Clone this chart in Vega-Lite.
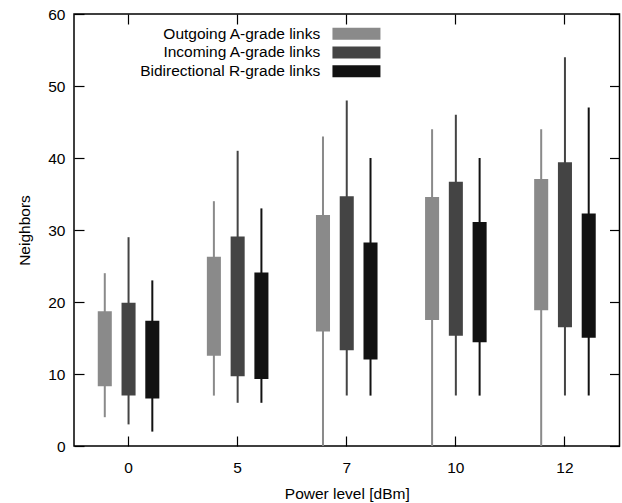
{
  "$schema": "https://vega.github.io/schema/vega-lite/v6.json",
  "width": 545.5,
  "height": 432,
  "autosize": {"type": "none"},
  "padding": {"left": 74, "top": 14, "right": 2, "bottom": 57},
  "config": {
    "font": "Liberation Sans",
    "view": {"stroke": "black", "strokeWidth": 1.5},
    "axis": {
      "domain": false, "grid": false, "ticks": true, "tickColor": "#000000", "tickSize": 10, "offset": -10, "tickWidth": 1.2, "tickOpacity": 1,
      "labelColor": "black", "labelFontSize": 15.5, "titleFontSize": 15.5, "titleFontWeight": "normal",
      "titleColor": "black", "labelFont": "Liberation Sans", "titleFont": "Liberation Sans", "zindex": 2
    }
  },
  "data": {"values": [
    {"power": "0", "series": "Outgoing A-grade links", "min": 4, "q1": 8.3, "q3": 18.7, "max": 24},
    {"power": "0", "series": "Incoming A-grade links", "min": 3, "q1": 7, "q3": 19.9, "max": 29},
    {"power": "0", "series": "Bidirectional R-grade links", "min": 2, "q1": 6.6, "q3": 17.4, "max": 23},
    {"power": "5", "series": "Outgoing A-grade links", "min": 7, "q1": 12.55, "q3": 26.3, "max": 34},
    {"power": "5", "series": "Incoming A-grade links", "min": 6, "q1": 9.7, "q3": 29.1, "max": 41},
    {"power": "5", "series": "Bidirectional R-grade links", "min": 6, "q1": 9.3, "q3": 24.1, "max": 33},
    {"power": "7", "series": "Outgoing A-grade links", "min": 0, "q1": 15.9, "q3": 32.1, "max": 43},
    {"power": "7", "series": "Incoming A-grade links", "min": 7, "q1": 13.3, "q3": 34.7, "max": 48},
    {"power": "7", "series": "Bidirectional R-grade links", "min": 7, "q1": 12, "q3": 28.25, "max": 40},
    {"power": "10", "series": "Outgoing A-grade links", "min": 0, "q1": 17.5, "q3": 34.6, "max": 44},
    {"power": "10", "series": "Incoming A-grade links", "min": 7, "q1": 15.3, "q3": 36.7, "max": 46},
    {"power": "10", "series": "Bidirectional R-grade links", "min": 7, "q1": 14.4, "q3": 31.1, "max": 40},
    {"power": "12", "series": "Outgoing A-grade links", "min": 0, "q1": 18.85, "q3": 37.1, "max": 44},
    {"power": "12", "series": "Incoming A-grade links", "min": 7, "q1": 16.5, "q3": 39.4, "max": 54},
    {"power": "12", "series": "Bidirectional R-grade links", "min": 7, "q1": 15.05, "q3": 32.3, "max": 47}
  ]},
  "encoding": {
    "xOffset": {"field": "series", "type": "nominal",
      "sort": ["Outgoing A-grade links", "Incoming A-grade links", "Bidirectional R-grade links"],
      "scale": {"paddingInner": 0.409, "paddingOuter": 1.182}},
    "color": {"field": "series", "type": "nominal",
      "scale": {"domain": ["Outgoing A-grade links", "Incoming A-grade links", "Bidirectional R-grade links"],
                "range": ["#8a8a8a", "#444444", "#121212"]},
      "legend": {
        "title": null, "orient": "none", "legendX": 274.7, "legendY": 12,
        "symbolType": "M-4,-1H4V1H-4Z", "symbolSize": 144, "symbolStrokeWidth": 0, "symbolOpacity": 1,
        "labelAlign": "right", "labelOffset": -44, "labelFontSize": 15.5, "labelColor": "black", "labelLimit": 0,
        "labelFont": "Liberation Sans", "padding": 0, "rowPadding": 1.7
      }}
  },
  "layer": [
    {
      "mark": {"type": "rule", "strokeWidth": 2},
      "encoding": {
        "x": {"field": "power", "type": "nominal", "sort": ["0", "5", "7", "10", "12"],
              "scale": {"paddingInner": 0, "paddingOuter": 0},
              "axis": {"orient": "bottom", "title": "Power level [dBm]", "labelAngle": 0, "labelPadding": 14, "titlePadding": 11, "bandPosition": 0.5, "ticks": true, "tickSize": 10, "tickColor": "#000000"}},
        "y": {"field": "min", "type": "quantitative", "scale": {"domain": [0, 60], "nice": false},
              "axis": {"orient": "left", "title": "Neighbors", "values": [0, 10, 20, 30, 40, 50, 60], "labelPadding": 9, "titlePadding": 15.5, "ticks": true, "tickSize": 10, "tickColor": "#000000"}},
        "y2": {"field": "max"}
      }
    },
    {
      "mark": {"type": "bar"},
      "encoding": {
        "x": {"field": "power", "type": "nominal", "sort": ["0", "5", "7", "10", "12"],
              "axis": {"orient": "top", "title": null, "labels": false, "bandPosition": 0.5, "ticks": true, "tickSize": 10, "tickColor": "#000000"}},
        "y": {"field": "q1", "type": "quantitative",
              "axis": {"orient": "right", "title": null, "labels": false, "values": [0, 10, 20, 30, 40, 50, 60], "ticks": true, "tickSize": 10, "tickColor": "#000000"}},
        "y2": {"field": "q3"}
      }
    }
  ],
  "resolve": {"axis": {"x": "independent", "y": "independent"}}
}
